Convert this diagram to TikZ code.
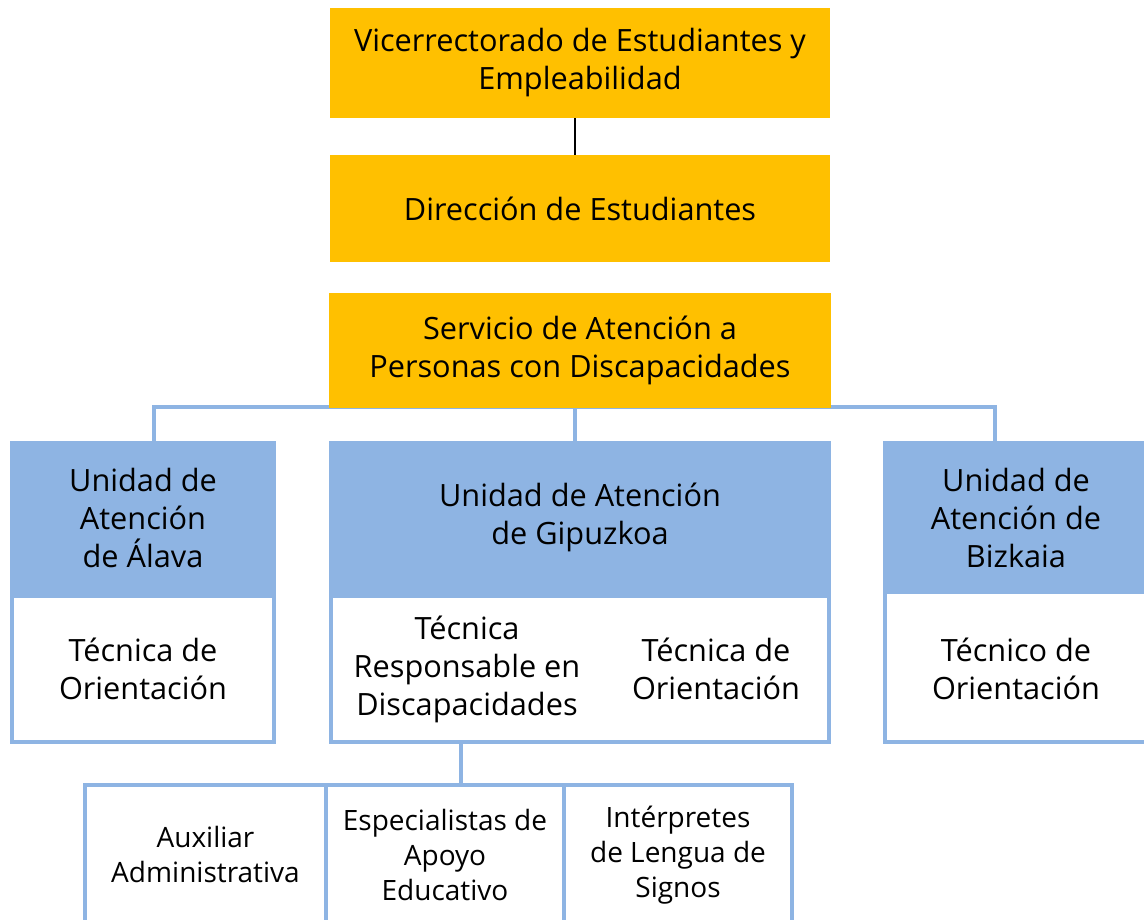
\documentclass[tikz,border=0pt]{standalone}
\usepackage{fontspec}
\setmainfont{Open Sans}
\usepackage{xcolor}
\usepackage{tikz}
\usetikzlibrary{positioning,backgrounds}
\definecolor{gold}{HTML}{FFC000}
\definecolor{lightblue}{HTML}{8EB4E3}

\begin{document}
\begin{tikzpicture}[x=1pt,y=1pt,
  goldbox/.style={rectangle, fill=gold, inner sep=0pt, minimum width=500pt, align=center, font=\fontsize{30.7}{38}\selectfont},
  headbox/.style={rectangle, fill=lightblue, inner sep=0pt, minimum width=266pt, minimum height=153pt, align=center, font=\fontsize{30.7}{38}\selectfont},
  bodybox/.style={rectangle, draw=lightblue, fill=white, line width=4pt, inner sep=0pt, minimum width=262pt, minimum height=146pt},
  bodytext/.style={align=center, inner sep=0pt, font=\fontsize{30.7}{38}\selectfont},
  cellbox/.style={rectangle, draw=lightblue, line width=4pt, inner sep=0pt, minimum height=140pt, align=center, font=\fontsize{28}{35}\selectfont},
  blueline/.style={draw=lightblue, line width=4pt},
]
\clip (0,0) rectangle (1144,919);

% top of the chart
\node[goldbox, minimum height=110pt] (vice) at (580,856) {Vicerrectorado de Estudiantes y\\Empleabilidad};
\node[goldbox, minimum height=107pt] (dir) at (580,710.5) {Dirección de Estudiantes};
\node[goldbox, minimum width=502pt, minimum height=115pt] (serv) at (580,568.5) {Servicio de Atención a\\Personas con Discapacidades};
\draw[black, line width=2pt] ([xshift=-5pt]vice.south) -- ([xshift=-5pt]dir.north);

% units
\node[headbox] (alava) at (143,401.5) {Unidad de\\Atención\\de Álava};
\node[bodybox] (alavabody) at (143,250) {};
\node[bodytext] (alavatec) at (143,250) {Técnica de\\Orientación};

\node[headbox, minimum width=502pt] (gipu) at (580,401.5) {Unidad de Atención\\de Gipuzkoa};
\node[bodybox, minimum width=498pt] (gipubody) at (580,250) {};
\node[bodytext] (gipuresp) at (467,250) {Técnica\\Responsable en\\Discapacidades};
\node[bodytext] (gipuorient) at (716,250) {Técnica de\\Orientación};

\node[headbox] (bizk) at (1016,401.5) {Unidad de\\Atención de\\Bizkaia};
\node[bodybox, minimum height=150pt] (bizkbody) at (1016,252) {};
\node[bodytext] (bizktec) at (1016,250) {Técnico de\\Orientación};

% staff under Gipuzkoa
\node[cellbox, minimum width=241pt] (aux) at (205.5,64) {Auxiliar\\Administrativa};
\node[cellbox, minimum width=238pt] (espec) at (445,64) {Especialistas de\\Apoyo\\Educativo};
\node[cellbox, minimum width=228pt] (interp) at (678,64) {Intérpretes\\de Lengua de\\Signos};

\begin{scope}[on background layer]
\coordinate (bus) at (575,512);
\draw[blueline] ([xshift=11pt]alava.north) |- (bus) -| ([xshift=-21pt]bizk.north);
\draw[blueline] (bus) -- (bus |- gipu.north);
\draw[blueline] ([xshift=16pt]espec.north) -- ([xshift=16pt]espec.north |- gipubody.south);
\end{scope}
\end{tikzpicture}
\end{document}
